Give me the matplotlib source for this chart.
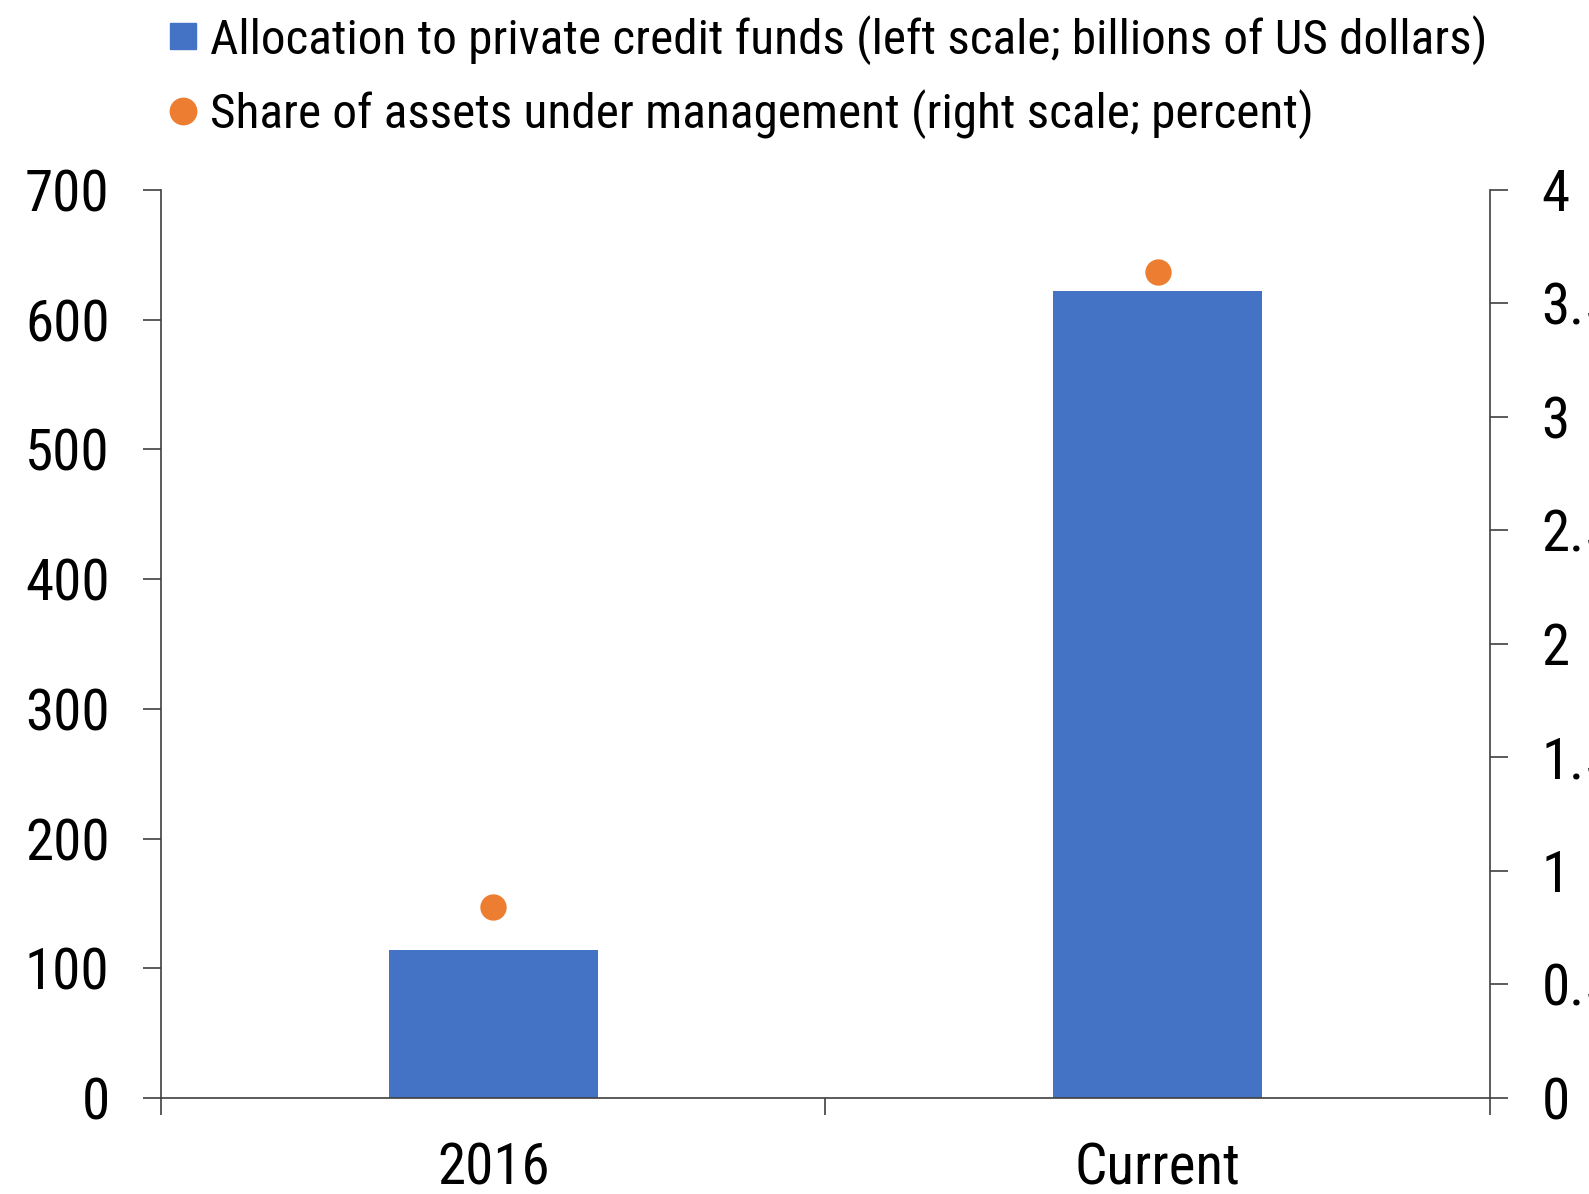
import matplotlib
matplotlib.use("Agg")
import matplotlib.pyplot as plt
from matplotlib.lines import Line2D
from matplotlib import font_manager

# data
categories = ["2016", "Current"]
allocation_bn = [114, 622]      # left scale, billions of US dollars
share_pct = [0.84, 3.64]        # right scale, percent

left_ticks = [0, 100, 200, 300, 400, 500, 600, 700]
right_ticks = [0, 0.5, 1, 1.5, 2, 2.5, 3, 3.5, 4]
right_labels = ["0", "0.5", "1", "1.5", "2", "2.5", "3", "3.5", "4"]

BLUE = "#4472C4"
ORANGE = "#ED7D31"

names = {f.name for f in font_manager.fontManager.ttflist}
narrow = [f for f in ["Liberation Sans Narrow", "Roboto Condensed", "Open Sans Condensed",
                      "Arial Narrow"] if f in names]
# the original uses a condensed face throughout
if narrow:
    plt.rcParams["font.family"] = [narrow[0], "DejaVu Sans"]
    FS = 41
    leg_font = {"family": narrow[0], "size": 35.5}
else:
    plt.rcParams["font.family"] = ["Liberation Sans", "DejaVu Sans"]
    FS = 39
    leg_font = {"family": "Liberation Sans", "size": 32}

fig = plt.figure(figsize=(15.89, 11.94), dpi=100)
ax = fig.add_axes([0.1013, 0.0804, 0.8364, 0.7605])
ax2 = ax.twinx()

x = list(range(len(categories)))
ax.bar(x, allocation_bn, width=0.315, color=BLUE, zorder=2)
ax2.scatter(x, share_pct, s=360, color=ORANGE, zorder=3, linewidths=0)

ax.set_xlim(-0.5, 1.5)
ax.set_ylim(0, 700)
ax2.set_ylim(0, 4)

ax.set_yticks(left_ticks)
ax.set_yticklabels([str(t) for t in left_ticks], fontsize=FS)
ax2.set_yticks(right_ticks)
ax2.set_yticklabels(right_labels, fontsize=FS)

ax.set_xticks(x)
ax.set_xticklabels(categories, fontsize=FS)
ax.set_xticks([-0.5, 0.5, 1.5], minor=True)
ax.tick_params(axis="x", which="major", length=0, pad=31)
ax.tick_params(axis="x", which="minor", length=12, width=1.2, color="#404040", direction="out")
ax.tick_params(axis="y", length=13, width=1.2, color="#404040", pad=24, direction="out")
ax2.tick_params(axis="y", length=13, width=1.2, color="#404040", pad=24, direction="out")

for a in (ax, ax2):
    a.spines["top"].set_visible(False)
for s in ("left", "bottom"):
    ax.spines[s].set_color("#404040")
    ax.spines[s].set_linewidth(1.2)
ax.spines["right"].set_visible(False)
ax2.spines["left"].set_visible(False)
ax2.spines["bottom"].set_visible(False)
ax2.spines["right"].set_color("#404040")
ax2.spines["right"].set_linewidth(1.2)

handles = [
    Line2D([], [], marker="s", linestyle="none", color=BLUE, markersize=19),
    Line2D([], [], marker="o", linestyle="none", color=ORANGE, markersize=19),
]
labels = [
    "Allocation to private credit funds (left scale; billions of US dollars)",
    "Share of assets under management (right scale; percent)",
]
fig.legend(handles, labels, loc="upper left", bbox_to_anchor=(0.092, 1.004),
           frameon=False, prop=leg_font, handlelength=0.7, handletextpad=0.2,
           labelspacing=0.5, borderaxespad=0.0)

fig.savefig("out.png", dpi=100)
